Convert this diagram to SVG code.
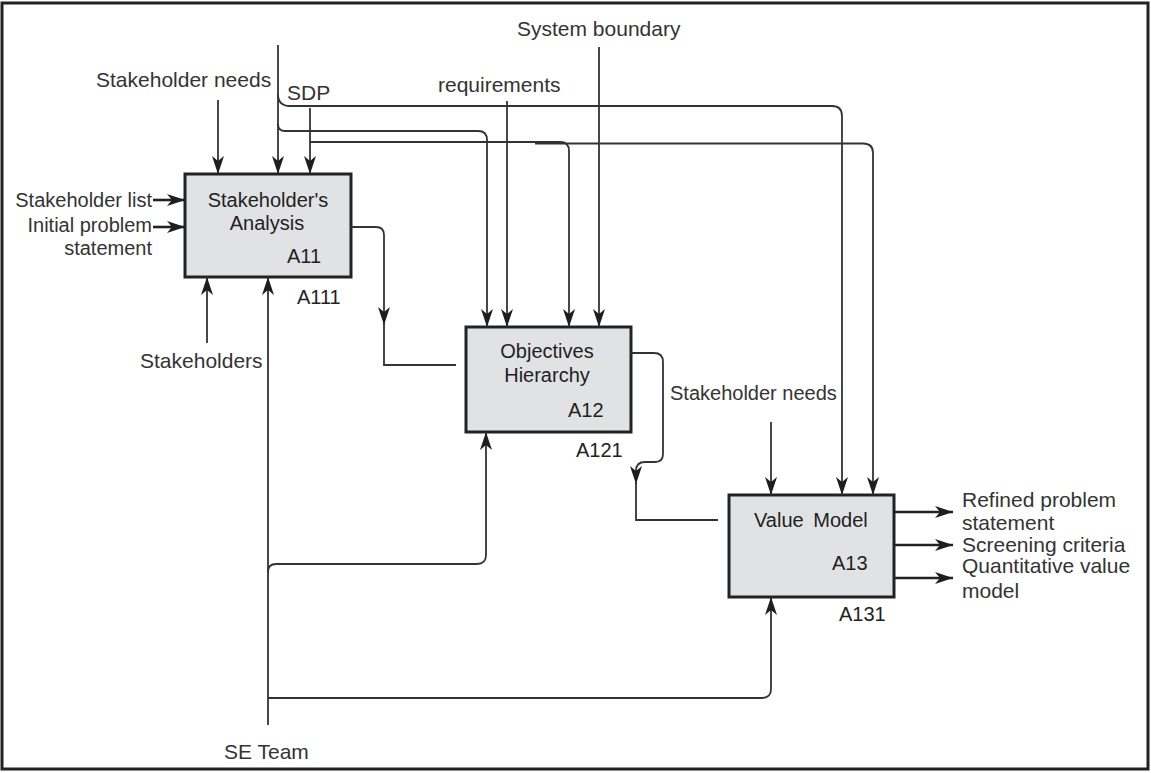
<svg xmlns="http://www.w3.org/2000/svg" width="1151" height="773" viewBox="0 0 1151 773">
<style>
.frame{fill:#fff;stroke:#222;stroke-width:3}
.box rect{fill:#e1e2e4;stroke:#222;stroke-width:3}
.c path{fill:none;stroke:#333;stroke-width:1.8}
.c path.thick{stroke-width:2.6;stroke:#222}
text{font-family:"Liberation Sans",Arial,sans-serif;fill:#333}
.lbl{font-size:21px}
.sm{font-size:20px}
.bt{font-size:20px;fill:#222}
.mid{text-anchor:middle}
.end{text-anchor:end}
</style>
<defs>
<marker id="ah" viewBox="0 0 18 12" refX="18" refY="6" markerWidth="18" markerHeight="12" orient="auto" markerUnits="userSpaceOnUse">
<path d="M0,0 L18,6 L0,12 L5,6 Z" fill="#1e1e1e"/>
</marker>
</defs>
<rect class="frame" x="2" y="3" width="1146" height="766"/>

<g id="A11" class="box">
<rect x="185" y="174" width="166" height="103"/>
<text class="bt mid" x="268" y="207">Stakeholder's</text>
<text class="bt mid" x="267" y="230">Analysis</text>
<text class="bt" x="287" y="263">A11</text>
<text class="bt" x="297" y="304">A111</text>
</g>

<g id="A12" class="box">
<rect x="466" y="327" width="165" height="105"/>
<text class="bt mid" x="547" y="358">Objectives</text>
<text class="bt mid" x="547" y="382">Hierarchy</text>
<text class="bt" x="568" y="417">A12</text>
<text class="bt" x="576" y="457">A121</text>
</g>

<g id="A13" class="box">
<rect x="729" y="495" width="165" height="102"/>
<text class="bt" x="754" y="527" word-spacing="4">Value Model</text>
<text class="bt" x="832" y="570">A13</text>
<text class="bt" x="839" y="621">A131</text>
</g>

<g id="labels">
<text class="lbl" x="96" y="87">Stakeholder needs</text>
<text class="lbl" x="287" y="100">SDP</text>
<text class="lbl" x="438" y="92">requirements</text>
<text class="lbl" x="517" y="36">System boundary</text>
<text class="sm end" x="152" y="207">Stakeholder list</text>
<text class="sm end" x="152" y="232">Initial problem</text>
<text class="sm end" x="152" y="255">statement</text>
<text class="lbl" x="140" y="368">Stakeholders</text>
<text class="lbl" x="224" y="759">SE Team</text>
<text class="sm" x="670" y="400">Stakeholder needs</text>
<text class="lbl" x="962" y="507">Refined problem</text>
<text class="lbl" x="962" y="530">statement</text>
<text class="lbl" x="962" y="552">Screening criteria</text>
<text class="lbl" x="962" y="573">Quantitative value</text>
<text class="lbl" x="962" y="598">model</text>
</g>

<g id="connectors" class="c">
<path d="M218,100 V174" marker-end="url(#ah)"/>
<path d="M278,45 V174" marker-end="url(#ah)"/>
<path d="M278,94 Q278,106 290,106 H832 Q842,106 842,116 V495" marker-end="url(#ah)"/>
<path d="M278,124 Q278,131 285,131 H478 Q487,131 487,140 V327" marker-end="url(#ah)"/>
<path d="M310,108 V174" marker-end="url(#ah)"/>
<path d="M310,142 H560 Q569,142 569,151 V327" marker-end="url(#ah)"/>
<path d="M535,143.5 H863 Q873,143.5 873,153 V495" marker-end="url(#ah)"/>
<path d="M507,101 V327" marker-end="url(#ah)"/>
<path d="M599,47 V327" marker-end="url(#ah)"/>
<path class="thick" d="M153,200 H185" marker-end="url(#ah)"/>
<path class="thick" d="M153,227 H185" marker-end="url(#ah)"/>
<path d="M207,343 V277" marker-end="url(#ah)"/>
<path d="M268,725 V277" marker-end="url(#ah)"/>
<path d="M268,572 Q268,564 276,564 H477 Q486,564 486,555 V432" marker-end="url(#ah)"/>
<path d="M268,698 H762 Q771,698 771,689 V597" marker-end="url(#ah)"/>
<path d="M351,227 H376 Q384,227 384,235 V325" marker-end="url(#ah)"/>
<path d="M384,322 V365 H456"/>
<path d="M631,353 H654 Q663,353 663,362 V454 Q663,462 655,462 H645 Q636,462 636,471 V484" marker-end="url(#ah)"/>
<path d="M636,481 V520 H718"/>
<path d="M771,422 V495" marker-end="url(#ah)"/>
<path class="thick" d="M894,512 H953" marker-end="url(#ah)"/>
<path class="thick" d="M894,545 H953" marker-end="url(#ah)"/>
<path class="thick" d="M894,578 H953" marker-end="url(#ah)"/>
</g>
</svg>
